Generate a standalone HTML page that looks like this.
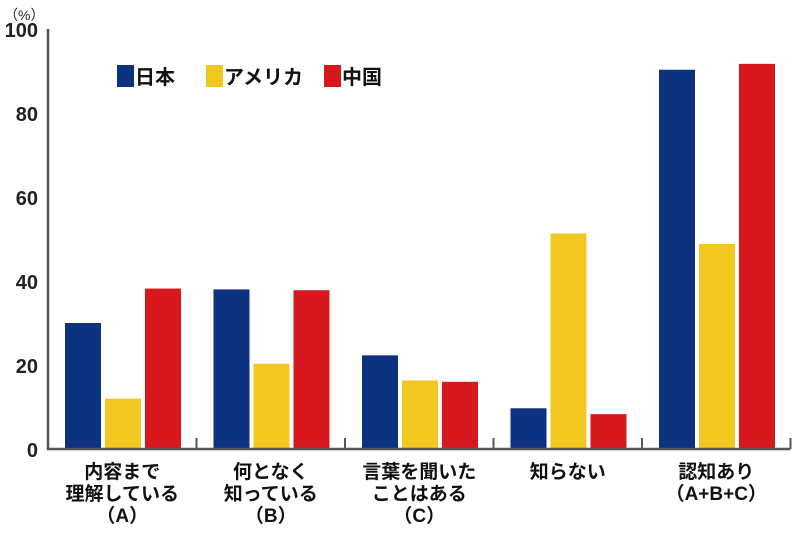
<!DOCTYPE html>
<html><head><meta charset="utf-8"><style>
body{margin:0;background:#fff;}
svg{display:block;font-family:"Liberation Sans","Noto Sans CJK JP",sans-serif;}
</style></head><body>
<svg id="c" width="800" height="537" viewBox="0 0 800 537"></svg>
<script>
const categories=[["内容まで","理解している","（A）"],["何となく","知っている","（B）"],["言葉を聞いた","ことはある","（C）"],["知らない"],["認知あり","（A+B+C）"]];
const seriesNames=["日本","アメリカ","中国"];
const japan=[30,38,22.3,9.7,90.3];
const usa=[12,20.3,16.3,51.3,48.8];
const china=[38.2,37.8,16,8.3,91.7];
const yTicks=[0,20,40,60,80,100];
const colors=["#0d3280","#f2c71f","#d7191f"];
const series=[japan,usa,china];
const svg=document.getElementById('c');
const NS='http://www.w3.org/2000/svg';
const x0=48,y0=449,yTop=29,gw=148.5;
const y=v=>y0-(v/100)*(y0-yTop);
const gx=i=>x0+i*gw;
function mk(t,a,txt){const e=document.createElementNS(NS,t);for(const k in a)e.setAttribute(k,a[k]);if(txt!==undefined)e.textContent=txt;svg.appendChild(e);return e;}
let e;
e=mk('text',{x:4,y:20,'font-size':14,fill:'#222'},'（%）');


yTicks.forEach(t=>{e=mk('text',{x:38,y:y(t)+8,'font-size':20,'font-weight':'bold','text-anchor':'end',fill:'#222'},t);

});
series.forEach((s,si)=>s.forEach((v,i)=>{
e=mk('rect',{x:gx(i)+17+si*40,y:y(v),width:36,height:y0-y(v),fill:colors[si]});

}));
e=mk('path',{d:`M${x0} ${yTop}V${y0}H${gx(5)}`,stroke:'#555','stroke-width':2.5,fill:'none'});


for(let i=1;i<=5;i++){e=mk('line',{x1:gx(i),x2:gx(i),y1:y0,y2:y0-11,stroke:'#555','stroke-width':2});

}
categories.forEach((c,i)=>c.forEach((l,j)=>{e=mk('text',{x:gx(i)+gw/2,y:478+j*22,'font-size':19,'font-weight':'bold','text-anchor':'middle',fill:'#111'},l);

}));
const lx=[117,206,324];
seriesNames.forEach((n,i)=>{
e=mk('rect',{x:lx[i],y:65,width:17,height:22,fill:colors[i]});


e=mk('text',{x:lx[i]+18,y:84,'font-size':20,'font-weight':'bold',fill:'#111'},n);

});
</script>
</body></html>
